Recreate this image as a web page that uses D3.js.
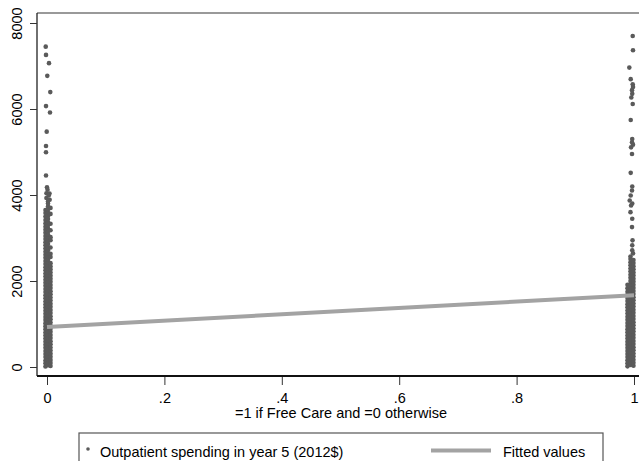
<!DOCTYPE html>
<html>
<head>
<meta charset="utf-8">
<script src="https://cdn.jsdelivr.net/npm/d3@7"></script>
<style>
  body { margin: 0; background: #fff; }
  text { font-family: "Liberation Sans", Arial, sans-serif; fill: #000; }
</style>
</head>
<body>
<div id="chart"></div>
<script>
// == DATA == //
const xTicks = [0, 0.2, 0.4, 0.6, 0.8, 1];
const xTickLabels = ["0", ".2", ".4", ".6", ".8", "1"];
const yTicks = [0, 2000, 4000, 6000, 8000];

// sparse outliers, [free care (jittered), spending]
const noCareSparse = [
    [-0.0022, 7450], [-0.0017, 7258], [0.0034, 7066], [0.0005, 6771], [0.0056, 6393],
    [-0.0017, 6068], [0.0051, 5920], [-0.0005, 5473], [-0.0017, 5141], [-0.0017, 4993],
    [-0.0017, 4452], [0.0000, 4181], [0.0009, 4121], [-0.0009, 4042], [0.0043, 4035],
    [0.0030, 3990], [-0.0010, 3930], [0.0045, 3890]
];
const freeCareSparse = [
    [0.9978, 7699], [0.9983, 7367], [0.9920, 6963], [0.9944, 6694], [0.9978, 6577],
    [0.9983, 6514], [0.9966, 6438], [0.9970, 6352], [0.9954, 6268], [0.9978, 6115],
    [0.9944, 5744], [0.9970, 5303], [0.9966, 5224], [0.9983, 5171], [0.9950, 5108],
    [0.9966, 4955], [0.9944, 4515], [0.9970, 4197], [0.9966, 4104], [0.9944, 3988],
    [0.9927, 3872], [0.9970, 3803], [0.9950, 3757], [0.9940, 3601], [0.9970, 3448],
    [0.9966, 3253], [0.9975, 2945], [0.9970, 2829], [0.9970, 2713], [0.9983, 2643]
];

// dense part of each group, one list of spending values per jitter column
const noCareJitter = [-0.0026, 0.0017, 0.0060];
const noCareDense = [
    [10, 85, 150, 230, 300, 370, 445, 515, 590, 660, 735, 805, 880, 950, 1020, 1095, 1165,
     1240, 1310, 1385, 1455, 1525, 1600, 1670, 1745, 1815, 1890, 1960, 2030, 2105, 2175, 2250,
     2320, 2395, 2465, 2540, 2610, 2680, 2755, 2830, 2900, 2975, 3045, 3120, 3190, 3260, 3340,
     3420, 3500, 3580, 3650],
    [40, 105, 175, 250, 320, 395, 465, 540, 610, 685, 755, 830, 900, 975, 1045, 1120, 1190,
     1265, 1335, 1410, 1480, 1555, 1625, 1700, 1770, 1845, 1915, 1990, 2060, 2135, 2205, 2280,
     2350, 2425, 2495, 2570, 2640, 2715, 2785, 2860, 2930, 3005, 3075, 3150, 3220, 3295, 3365,
     3440, 3510, 3585, 3660, 3730, 3800, 3850],
    [25, 95, 165, 240, 310, 385, 455, 530, 600, 675, 745, 820, 890, 965, 1035, 1110, 1180,
     1255, 1325, 1400, 1470, 1545, 1615, 1690, 1760, 1835, 1905, 1980, 2050, 2125, 2195, 2270,
     2340, 2415, 2560, 2635, 2780, 2950, 3020, 3180, 3330, 3560, 3700]
];
const freeCareJitter = [0.9889, 0.9940, 0.9991];
const freeCareDense = [
    [15, 85, 155, 230, 300, 375, 445, 520, 590, 665, 735, 810, 880, 955, 1025, 1100, 1170,
     1245, 1315, 1390, 1460, 1535, 1605, 1680, 1750, 1830, 1910],
    [45, 115, 190, 260, 335, 405, 480, 550, 625, 695, 770, 840, 915, 985, 1060, 1130, 1205,
     1275, 1350, 1420, 1495, 1565, 1640, 1710, 1785, 1855, 1930, 2000, 2075, 2145, 2220, 2290,
     2365, 2435, 2510, 2570],
    [30, 100, 170, 245, 315, 390, 460, 535, 605, 680, 750, 825, 895, 970, 1040, 1115, 1185,
     1260, 1330, 1405, 1475, 1550, 1620, 1695, 1765, 1840, 1910, 1985, 2055, 2130, 2200, 2275,
     2345, 2420, 2490]
];

// linear fit
const fitX = [0, 1];
const fitY = [928, 1670];

const xTitle = "=1 if Free Care and =0 otherwise";
const legendLabels = ["Outpatient spending in year 5 (2012$)", "Fitted values"];

// == SVG == //
const width = 639, height = 461;
const svg = d3.select("#chart").append("svg")
    .attr("width", width)
    .attr("height", height);

const x = d3.scaleLinear().domain([0, 1]).range([47, 634]);
const y = d3.scaleLinear().domain([0, 8000]).range([367, 23]);

const plotLeft = 37, plotTop = 13, plotBottom = 376;
const fontSize = 14.5;

// collect all points
let points = noCareSparse.concat(freeCareSparse);
noCareDense.forEach((col, i) => col.forEach(v => points.push([noCareJitter[i], v])));
freeCareDense.forEach((col, i) => col.forEach(v => points.push([freeCareJitter[i], v])));

svg.append("g").attr("class", "points")
    .selectAll("circle")
    .data(points)
    .enter().append("circle")
    .attr("cx", d => x(d[0]))
    .attr("cy", d => y(d[1]))
    .attr("r", 2.3)
    .attr("fill", "#5a5a5a");

// fitted line
svg.append("path")
    .datum(fitX.map((d, i) => [d, fitY[i]]))
    .attr("d", d3.line().x(d => x(d[0])).y(d => y(d[1])))
    .attr("stroke", "#a3a3a3")
    .attr("stroke-width", 4)
    .attr("fill", "none");

// frame
svg.append("line").attr("x1", plotLeft).attr("x2", width).attr("y1", plotTop).attr("y2", plotTop)
    .attr("stroke", "#777").attr("stroke-width", 1.5);
svg.append("line").attr("x1", plotLeft).attr("x2", plotLeft).attr("y1", plotTop).attr("y2", plotBottom)
    .attr("stroke", "#222").attr("stroke-width", 1.3);
svg.append("line").attr("x1", plotLeft).attr("x2", width).attr("y1", plotBottom).attr("y2", plotBottom)
    .attr("stroke", "#111").attr("stroke-width", 2);

// == AXES == //
const xAxis = d3.axisBottom(x)
    .tickValues(xTicks)
    .tickFormat((d, i) => xTickLabels[i])
    .tickSize(8)
    .tickPadding(8);
const xg = svg.append("g")
    .attr("transform", `translate(0, ${plotBottom + 1})`)
    .call(xAxis);
xg.select(".domain").remove();
xg.selectAll("line").attr("stroke", "#333");
xg.selectAll("text").attr("font-size", fontSize).attr("font-family", "Liberation Sans, Arial, sans-serif");

const yAxis = d3.axisLeft(y)
    .tickValues(yTicks)
    .tickFormat(d3.format("d"))
    .tickSize(7);
const yg = svg.append("g")
    .attr("transform", `translate(${plotLeft}, 0)`)
    .call(yAxis);
yg.select(".domain").remove();
yg.selectAll("line").attr("stroke", "#333");
yg.selectAll("text")
    .attr("font-size", fontSize)
    .attr("font-family", "Liberation Sans, Arial, sans-serif")
    .attr("x", null).attr("dy", null)
    .attr("text-anchor", "middle")
    .attr("transform", "translate(-15, 0) rotate(-90)");

svg.append("text")
    .attr("x", 341)
    .attr("y", 418)
    .attr("text-anchor", "middle")
    .attr("font-size", fontSize)
    .text(xTitle);

// == LEGEND == //
const legend = svg.append("g").attr("class", "legend");
legend.append("rect")
    .attr("x", 79).attr("y", 433)
    .attr("width", 524).attr("height", 60)
    .attr("fill", "none")
    .attr("stroke", "#555")
    .attr("stroke-width", 1.2);
legend.append("circle")
    .attr("cx", 88).attr("cy", 449)
    .attr("r", 1.8)
    .attr("fill", "#5a5a5a");
legend.append("text")
    .attr("x", 100).attr("y", 456.5)
    .attr("font-size", fontSize)
    .text(legendLabels[0]);
legend.append("line")
    .attr("x1", 431).attr("x2", 491)
    .attr("y1", 450.5).attr("y2", 450.5)
    .attr("stroke", "#a3a3a3")
    .attr("stroke-width", 4);
legend.append("text")
    .attr("x", 503).attr("y", 456.5)
    .attr("font-size", fontSize)
    .text(legendLabels[1]);
</script>
</body>
</html>
